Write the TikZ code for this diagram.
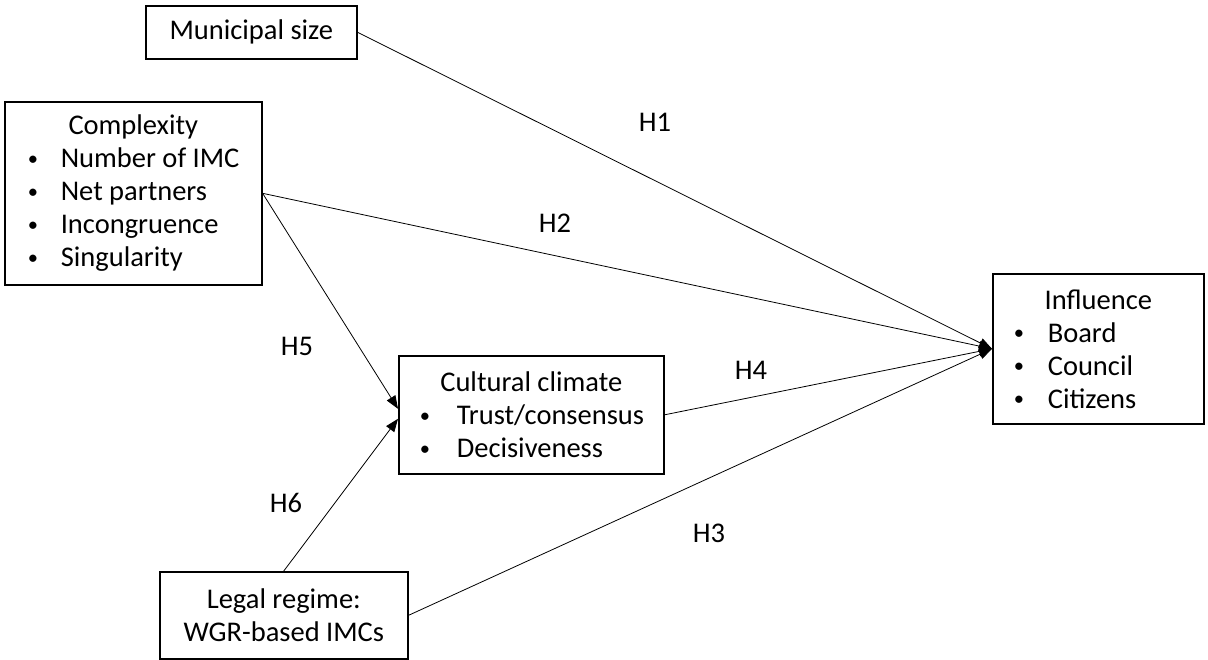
\documentclass[tikz,border=0pt]{standalone}
\usepackage{fontspec}
\setmainfont{Carlito}
\usetikzlibrary{arrows.meta}
\newcommand{\bitem}[3]{\hspace*{#1}\makebox[#2][l]{\raisebox{0.08em}{\scalebox{0.72}{•}}}#3}
\begin{document}
\begin{tikzpicture}[x=1pt,y=-1pt,
  box/.style={draw,line width=1.6pt,anchor=north west,inner xsep=0pt,inner ysep=0pt,align=left,
    font=\fontsize{28.5pt}{33pt}\selectfont},
  arr/.style={line width=0.8pt,-{Triangle[length=13pt,width=10pt]}},
  hlab/.style={font=\fontsize{28.5pt}{33pt}\selectfont,inner sep=0pt}]
\useasboundingbox (0,0) rectangle (1208,659);
\node[box,minimum width=211pt,minimum height=53pt,align=center] (muni) at (145,5) {Municipal size};
\node[box,minimum width=257pt,minimum height=183pt] (cplx) at (4,101)
  {\makebox[257pt][c]{Complexity}\\
   \bitem{23pt}{33pt}{Number of IMC}\\
   \bitem{23pt}{33pt}{Net partners}\\
   \bitem{23pt}{33pt}{Incongruence}\\
   \bitem{23pt}{33pt}{Singularity}};
\node[box,minimum width=265pt,minimum height=118pt] (clim) at (398,355)
  {\makebox[265pt][c]{Cultural climate}\\
   \bitem{21pt}{37pt}{Trust/consensus}\\
   \bitem{21pt}{37pt}{Decisiveness}};
\node[box,minimum width=211pt,minimum height=150pt] (infl) at (992,273)
  {\makebox[211pt][c]{Influence}\\
   \bitem{21pt}{34pt}{Board}\\
   \bitem{21pt}{34pt}{Council}\\
   \bitem{21pt}{34pt}{Citizens}};
\node[box,minimum width=248pt,minimum height=87pt,align=center] (legal) at (159,571)
  {Legal regime:\\WGR-based IMCs};
\draw[arr] (muni.east) -- (infl.west);
\draw[arr] (cplx.east) -- (infl.west);
\draw[arr] (cplx.east) -- ([yshift=6pt]clim.west);
\draw[arr] (legal.north) -- ([yshift=-4pt]clim.west);
\draw[arr] (clim.east) -- (infl.west);
\draw[arr] (legal.east) -- (infl.west);
\node[hlab] (h1) at (655,122) {H1};
\node[hlab] (h2) at (555,223) {H2};
\node[hlab] (h3) at (709,533) {H3};
\node[hlab] (h4) at (751,370) {H4};
\node[hlab] (h5) at (297,346) {H5};
\node[hlab] (h6) at (286,503) {H6};
\end{tikzpicture}
\end{document}
